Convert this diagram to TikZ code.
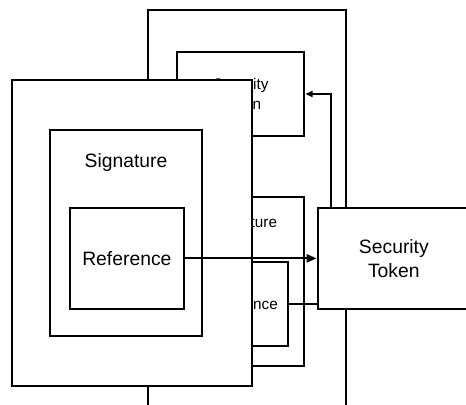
\documentclass[tikz,border=0pt]{standalone}
\usepackage{fontspec}
\setmainfont{Liberation Sans}
\usetikzlibrary{arrows.meta,calc}

\tikzset{
  box/.style={draw, line width=1.5pt, inner sep=0pt},
  rect/.style 2 args={minimum width=0.75*#1, minimum height=0.75*#2},
  bigtxt/.style={font=\fontsize{14.5}{18}\selectfont, align=center},
  smalltxt/.style={font=\fontsize{11.5}{15}\selectfont, align=center},
  link/.style={line width=1.5pt},
}

\begin{document}
\begin{tikzpicture}[x=0.75pt,y=0.75pt,yscale=-1,xscale=1]
      \clip (0,0) rectangle (466,404);

      % back document
      \node[box, rect={197.7}{430}] (bdoc) at (246.85,225) {};
      \node[box, smalltxt, rect={127}{83.4}] (bst) at (240.8,94) {Security\\Token};
      \node[box, rect={114}{168.7}] (bsig) at (247,281.35) {};
      \node[smalltxt] (bsigt) at (244.3,223.3) {Signature};
      \node[box, smalltxt, rect={91}{83.7}] (bref) at (242.5,303.85) {Reference};

      % front document
      \node[box, fill=white, rect={240}{305.7}] (fdoc) at (132.3,232.85) {};
      \node[box, rect={151.7}{205.4}] (fsig) at (125.85,233) {};
      \node[bigtxt] (fsigt) at (126,162) {Signature};
      \node[box, bigtxt, rect={113.7}{101.3}] (fref) at (126.85,258.35) {Reference};

      % security token
      \node[box, bigtxt, fill=white, rect={152.3}{101.3}] (fst) at (393.85,258.35) {Security\\Token};

      % links
      \draw[link, -{Triangle[length=7.5pt,width=6pt]}] (fref.east) -- (fref.east -| fst.west);
      \draw[link] (bref.east) -- (bref.east -| fst.west);
      \draw[link, -{Triangle[length=5.5pt,width=4.5pt]}] ($(fst.north west)+(14.5,0)$) |- (bst.east);

\end{tikzpicture}
\end{document}
